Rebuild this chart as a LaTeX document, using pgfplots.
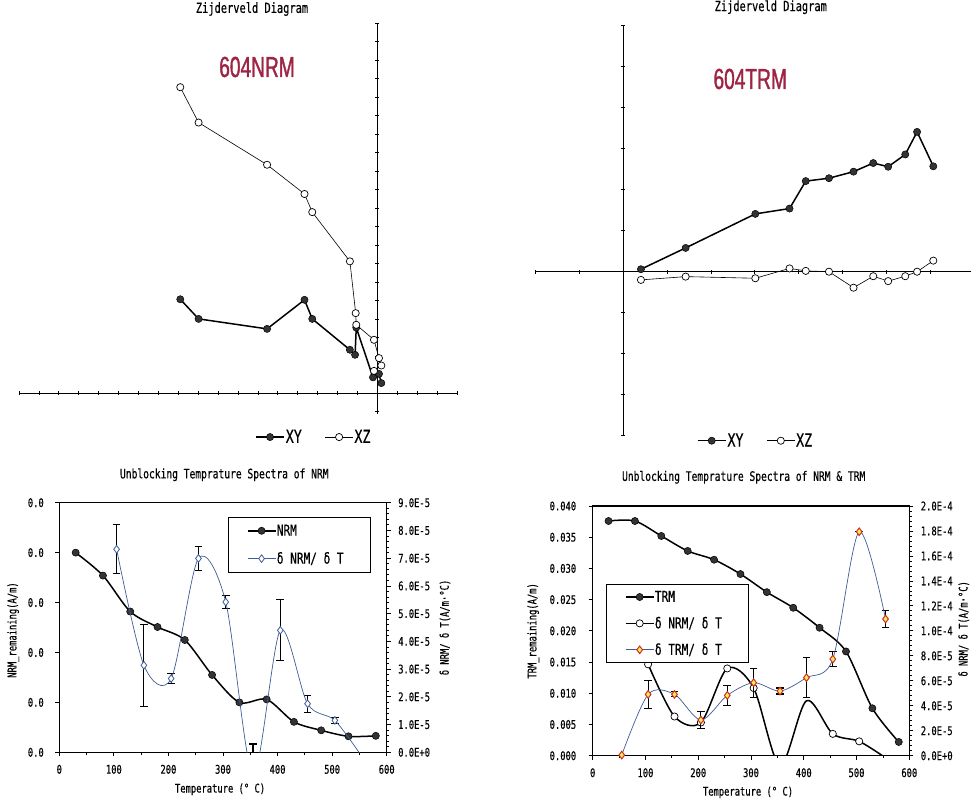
\documentclass[border=0pt]{standalone}
\usepackage{pgfplots}
\usepackage{pgfplotstable}
\pgfplotsset{compat=1.18}
\usepackage{fontspec}
\setmainfont[FakeStretch=0.74, FakeBold=0.4]{DejaVu Sans Mono}
\newfontfamily\tagfont[FakeStretch=0.66, FakeBold=1.2]{Liberation Sans}
\definecolor{tagred}{RGB}{158,36,68}
\definecolor{specblue}{RGB}{62,92,150}
\definecolor{trmedge}{RGB}{205,45,40}
\definecolor{trmfill}{RGB}{255,236,80}

% ---- measurements -------------------------------------------------------
\pgfplotstableread{
T v
30 0.0400
80 0.0354
130 0.0282
180 0.0251
230 0.0225
280 0.0155
330 0.0100
380 0.0106
430 0.0061
480 0.0044
530 0.0032
580 0.0033
}\nrm

\pgfplotstableread{
T v
30 0.0376
80 0.0376
130 0.0352
180 0.0328
230 0.0314
280 0.0291
330 0.0262
380 0.0237
430 0.0205
480 0.0167
530 0.0076
580 0.0022
}\trm

\pgfplotstableread{
T v err
105 7.32e-5 0.88e-5
155 3.14e-5 1.48e-5
205 2.66e-5 0.18e-5
255 6.99e-5 0.42e-5
305 5.42e-5 0.24e-5
355 -0.80e-5 1.10e-5
405 4.40e-5 1.10e-5
455 1.75e-5 0.31e-5
505 1.15e-5 0.11e-5
555 -0.17e-5 0
}\dnrm

\pgfplotstableread{
T v err
55 0.05e-5 0
105 4.91e-5 1.11e-5
155 4.91e-5 0.20e-5
205 2.86e-5 0.69e-5
255 4.83e-5 0.80e-5
305 5.85e-5 1.16e-5
355 5.18e-5 0.24e-5
405 6.25e-5 1.60e-5
455 7.74e-5 0.63e-5
505 17.94e-5 0
555 10.95e-5 0.68e-5
}\dtrm

\pgfplotsset{
  /pgf/number format/assume math mode=true,
  % orthogonal projection plots
  zij/.style={
    scale only axis, anchor=south west, clip=false,
    axis lines=middle, axis line style={-, line width=1.1pt},
    tick align=center, major tick length=4pt,
    tick style={black, line width=0.8pt},
    xticklabels={}, yticklabels={},
    title style={font=\fontsize{14}{16}\selectfont, anchor=center},
    legend columns=2,
    legend style={draw=none, fill=none, anchor=west, inner sep=0pt,
      font=\fontsize{18}{20}\selectfont,
      nodes={inner sep=1pt},
      /tikz/every even column/.append style={column sep=22pt}},
    legend image code/.code={\draw[mark repeat=2, mark phase=2, ##1]
      plot coordinates {(0pt,0pt) (14pt,0pt) (28pt,0pt)};},
  },
  zxy/.style={black, line width=1.5pt, mark=*, mark size=3.6pt,
    mark options={draw=black, fill=black!80, line width=0.5pt}},
  zxz/.style={black, line width=0.6pt, mark=*, mark size=3.6pt,
    mark options={draw=black, fill=white, line width=0.7pt}},
  % unblocking temperature spectra
  spec/.style={
    scale only axis, anchor=south west,
    xmin=0, xmax=600, scaled ticks=false,
    tick align=outside, major tick length=4pt, minor tick length=2.5pt,
    axis line style={line width=1.1pt}, tick style={black, line width=0.8pt},
    ticklabel style={font=\fontsize{11.9}{14}\selectfont},
    label style={font=\fontsize{11.9}{14}\selectfont},
    title style={font=\fontsize{13}{15}\selectfont, anchor=center},
    legend style={draw=black, fill=white, line width=0.5pt, anchor=north west,
      font=\fontsize{15}{16}\selectfont, inner xsep=19pt,
      nodes={inner sep=0.5pt, anchor=west}},
    legend image code/.code={\draw[mark repeat=2, mark phase=2, ##1]
      plot coordinates {(0pt,0pt) (14pt,0pt) (28pt,0pt)};},
  },
  specleft/.style={spec, xtick={0,100,...,600}, minor x tick num=1,
    xtick pos=bottom, ytick pos=left, xticklabel style={yshift=-5pt},
    yticklabel style={xshift=-8pt}},
  specright/.style={spec, axis y line*=right, axis x line=none, xtick=\empty,
    ytick pos=right, minor y tick num=4, yticklabel style={xshift=4pt}},
  curvebold/.style={black, line width=1.5pt, smooth, mark=*, mark size=3.6pt,
    mark options={draw=black, fill=black!80, line width=0.5pt}},
  curveopen/.style={black, line width=1.5pt, smooth, mark=*, mark size=3.6pt,
    mark options={draw=black, fill=white, line width=0.7pt}},
  errs/.style={forget plot, draw=none, mark=none,
    error bars/.cd, y dir=both, y explicit,
    error bar style={draw=black, line width=1.1pt},
    error mark options={draw=black, rotate=90, mark size=3.8pt, line width=1.1pt}},
}

\begin{document}
\begin{tikzpicture}
\path[use as bounding box] (0,0) rectangle (971pt,804pt);

% ---------------- 604 NRM projection ----------------
\begin{axis}[zij, at={(19pt,390pt)}, width=438pt, height=391pt,
  xmin=-18, xmax=4, ymin=-1.13, ymax=20,
  xtick={-18,...,4}, ytick={-1,...,20},
  title={Zijderveld Diagram}, title style={at={(axis description cs:0.532,1.0205)}},
  legend style={at={(axis description cs:0.539,-0.059)}}]
\addplot[zxy] table {
x y
-9.90 5.07
-8.98 4.01
-5.54 3.47
-3.66 5.04
-3.27 4.01
-1.38 2.34
-1.12 2.07
-1.06 3.54
-0.22 0.85
0.08 1.04
0.20 0.54
};
\addlegendentry{XY}
\addplot[zxz] table {
x y
-9.90 16.53
-8.98 14.62
-5.54 12.34
-3.66 10.76
-3.27 9.78
-1.38 7.12
-1.09 4.32
-1.06 3.69
-0.17 2.88
0.08 1.89
0.20 1.49
-0.17 1.20
};
\addlegendentry{XZ}
\end{axis}

% ---------------- 604 TRM projection ----------------
\begin{axis}[zij, at={(535.7pt,368.3pt)}, width=435.3pt, height=410pt,
  xmin=-2, xmax=7.93, ymin=-4, ymax=6,
  xtick={-2,...,7}, ytick={-4,...,6},
  title={Zijderveld Diagram}, title style={at={(axis description cs:0.540,1.0305)}},
  legend style={at={(axis description cs:0.370,-0.0122)}}]
\addplot[zxy] table {
x y
0.40 0.06
1.42 0.58
3.01 1.41
3.79 1.54
4.16 2.21
4.69 2.28
5.25 2.44
5.70 2.65
6.04 2.56
6.43 2.86
6.70 3.41
7.07 2.57
};
\addlegendentry{XY}
\addplot[zxz] table {
x y
0.40 -0.20
1.42 -0.12
3.01 -0.16
3.79 0.08
4.16 0.02
4.69 0.00
5.25 -0.39
5.70 -0.11
6.04 -0.23
6.43 -0.11
6.70 0.00
7.07 0.27
};
\addlegendentry{XZ}
\end{axis}

% ---------------- NRM spectrum ----------------
\begin{axis}[specleft, at={(59.3pt,51.7pt)}, width=327.4pt, height=249.6pt,
  ymin=0, ymax=0.05, ytick={0,0.01,0.02,0.03,0.04,0.05},
  yticklabels={0.0,0.0,0.0,0.0,0.0,0.0},
  title={Unblocking Temprature Spectra of NRM},
  title style={at={(axis description cs:0.504,1.088)}},
  xlabel={Temperature (° C)},
  xlabel style={at={(axis description cs:0.491,-0.148)}, anchor=center},
  ylabel={NRM\_remaining(A/m)},
  ylabel style={at={(axis description cs:-0.1405,0.49)}, anchor=center}]
\addplot[curvebold] table[x=T, y=v] {\nrm};
\end{axis}
\begin{axis}[specright, at={(59.3pt,51.7pt)}, width=327.4pt, height=249.6pt,
  ymin=0, ymax=9e-5,
  ytick={0,1e-5,2e-5,3e-5,4e-5,5e-5,6e-5,7e-5,8e-5,9e-5},
  yticklabels={0.0E+0,1.0E-5,2.0E-5,3.0E-5,4.0E-5,5.0E-5,6.0E-5,7.0E-5,8.0E-5,9.0E-5},
  ylabel={δ NRM/ δ T(A/m·°C)},
  ylabel style={at={(axis description cs:1.178,0.5)}, anchor=center},
  legend style={at={(0.514,0.942)}, row sep=14pt, inner ysep=6.5pt}]
\addlegendimage{curvebold}
\addlegendentry{\strut\makebox[74pt][l]{NRM}}
\addplot[errs] table[x=T, y=v, y error=err] {\dnrm};
\addplot[specblue, line width=0.7pt, smooth, mark=diamond*, mark size=3.8pt,
  mark options={fill=white, draw=specblue, line width=0.8pt}]
  table[x=T, y=v] {\dnrm};
\addlegendentry{\strut\makebox[74pt][l]{δ NRM/ δ T}}
\end{axis}

% ---------------- NRM & TRM spectrum ----------------
\begin{axis}[specleft, at={(592.7pt,48.3pt)}, width=316.6pt, height=249.7pt,
  ymin=0, ymax=0.04,
  ytick={0,0.005,0.01,0.015,0.02,0.025,0.03,0.035,0.04},
  yticklabels={0.000,0.005,0.010,0.015,0.020,0.025,0.030,0.035,0.040},
  yticklabel style={xshift=-1pt},
  title={Unblocking Temprature Spectra of NRM \& TRM},
  title style={at={(axis description cs:0.477,1.091)}},
  xlabel={Temperature (° C)},
  xlabel style={at={(axis description cs:0.4905,-0.1466)}, anchor=center},
  ylabel={TRM\_remaining(A/m)},
  ylabel style={at={(axis description cs:-0.1876,0.5)}, anchor=center}]
\addplot[curvebold] table[x=T, y=v] {\trm};
\end{axis}
\begin{axis}[specright, at={(592.7pt,48.3pt)}, width=316.6pt, height=249.7pt,
  clip mode=individual,
  ymin=0, ymax=2e-4,
  ytick={0,2e-5,4e-5,6e-5,8e-5,10e-5,12e-5,14e-5,16e-5,18e-5,20e-5},
  yticklabels={0.0E+0,2.0E-5,4.0E-5,6.0E-5,8.0E-5,1.0E-4,1.2E-4,1.4E-4,1.6E-4,1.8E-4,2.0E-4},
  ylabel={δ NRM/ δ T(A/m·°C)},
  ylabel style={at={(axis description cs:1.172,0.508)}, anchor=center},
  legend style={at={(0.041,0.686)}, row sep=12.5pt, inner ysep=5.5pt}]
\addlegendimage{curvebold}
\addlegendentry{\strut\makebox[74pt][l]{TRM}}
\addlegendimage{curveopen}
\addlegendentry{\strut\makebox[74pt][l]{δ NRM/ δ T}}
\addplot[curveopen, forget plot, mark indices={1,2,3,4,5,7,8,9}]
  table[x=T, y=v] {\dnrm};
\addplot[errs] table[x=T, y=v, y error=err] {\dtrm};
\addplot[specblue, line width=0.7pt, smooth, mark=diamond*, mark size=3.8pt,
  mark options={fill=trmfill, draw=trmedge, line width=1pt}]
  table[x=T, y=v] {\dtrm};
\addlegendentry{\strut\makebox[74pt][l]{δ TRM/ δ T}}
\end{axis}

% sample labels
\node[font=\tagfont\fontsize{29}{30}\selectfont, text=tagred] at (257pt,737pt) {604NRM};
\node[font=\tagfont\fontsize{29}{30}\selectfont, text=tagred] at (750.2pt,725pt) {604TRM};
\end{tikzpicture}
\end{document}
